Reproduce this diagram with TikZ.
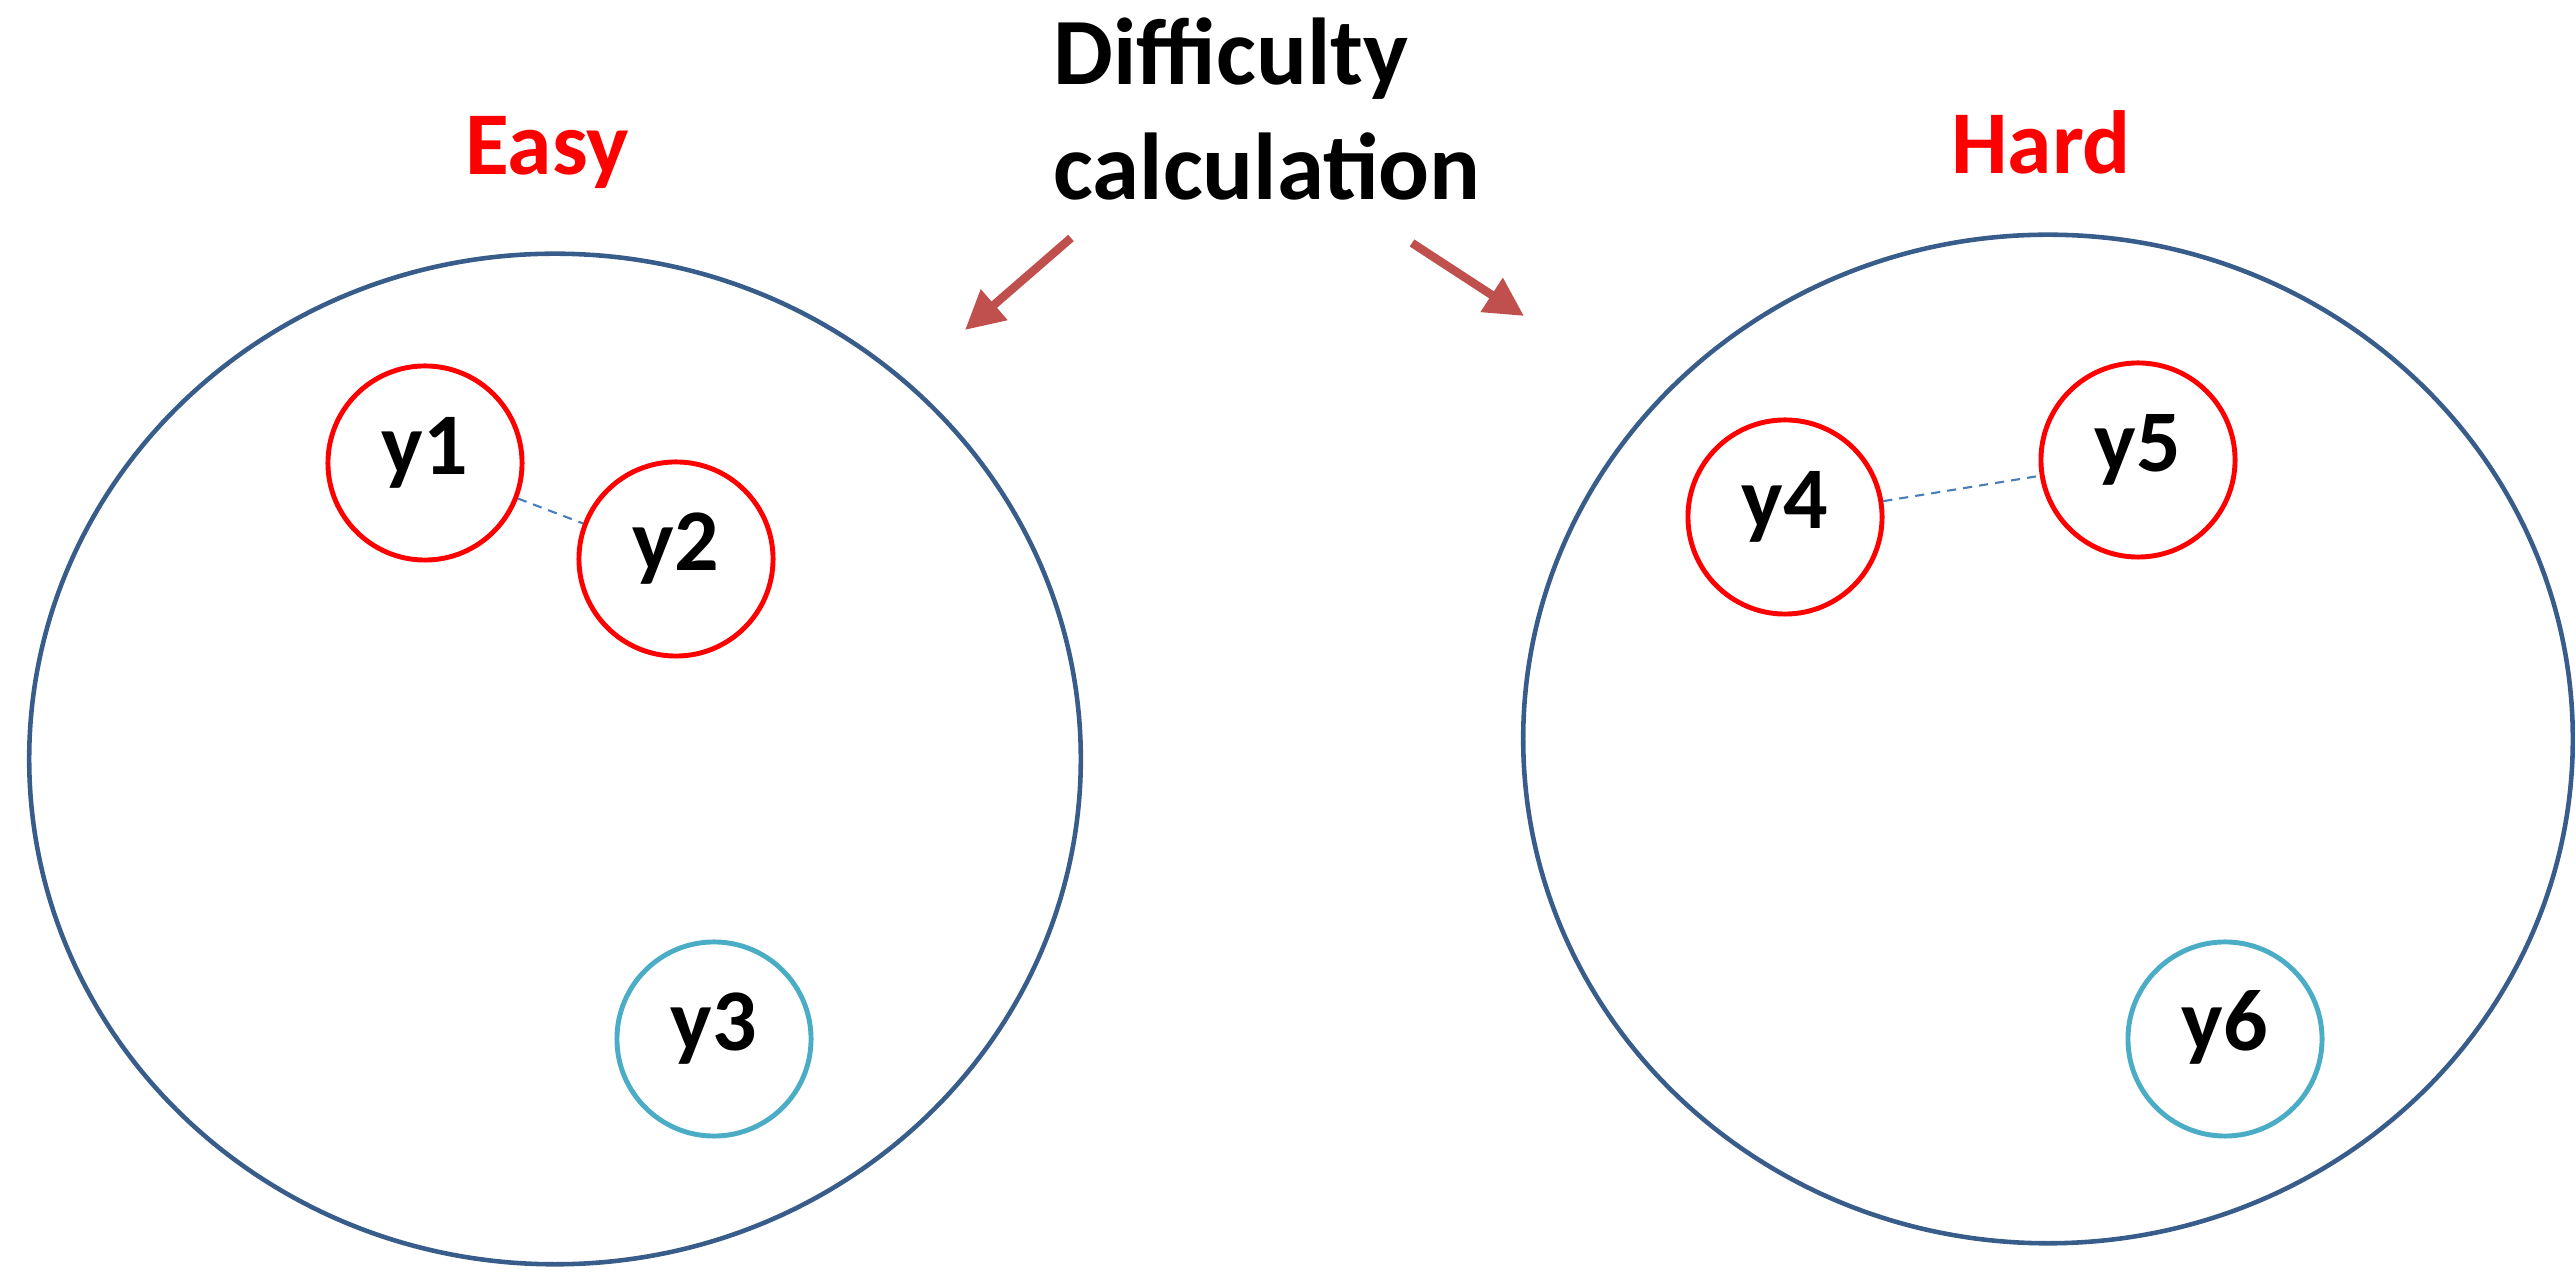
\documentclass[tikz,border=0pt]{standalone}
\usepackage{fontspec}
\setmainfont{Carlito}
\usetikzlibrary{shapes.geometric,arrows.meta}
\definecolor{setblue}{HTML}{385D8A}
\definecolor{redc}{HTML}{FF0000}
\definecolor{cyanc}{HTML}{4BACC6}
\definecolor{dashblue}{HTML}{4A7EBB}
\definecolor{arrowred}{HTML}{C0504D}
\tikzset{
  setellipse/.style={draw=setblue, line width=1.3pt, ellipse, inner sep=0pt},
  yball/.style={circle, draw=#1, line width=1.4pt, minimum size=1.94cm, inner sep=0pt,
    font=\fontsize{25}{28}\selectfont\bfseries, text height=0.632em, text depth=0pt},
  dashlink/.style={draw=dashblue, line width=0.6pt, dash pattern=on 2.6pt off 2pt},
  bigarrow/.style={draw=arrowred, line width=2.4pt, -{Triangle[length=11pt,width=11pt]}},
  setlabel/.style={anchor=base, text=redc, font=\fontsize{25.5}{30}\selectfont\bfseries, inner sep=0pt},
  titletext/.style={anchor=base west, font=\fontsize{27}{32}\selectfont\bfseries, inner sep=0pt}
}
\begin{document}
\begin{tikzpicture}[x=0.01cm, y=-0.01cm]
\useasboundingbox (0,0) rectangle (2575,1274);
% sets
\node[setellipse, minimum width=10.51cm, minimum height=10.10cm] (easyset) at (555,759) {};
\node[setellipse, minimum width=10.49cm, minimum height=10.08cm] (hardset) at (2048,739) {};
% labels
\node[setlabel] (easy) at (547,175) {Easy};
\node[setlabel] (hard) at (2041,174) {Hard};
\node[titletext] (t1) at (1053,85) {Difficulty};
\node[titletext] (t2) at (1053,200) {calculation};
% balls
\node[yball=redc] (y1) at (425,463) {y1};
\node[yball=redc] (y2) at (676,559) {y2};
\node[yball=cyanc] (y3) at (714,1039) {y3};
\node[yball=redc] (y4) at (1785,517) {y4};
\node[yball=redc] (y5) at (2138,460) {y5};
\node[yball=cyanc] (y6) at (2225,1039) {y6};
% links
\draw[dashlink] (y1) -- (y2);
\draw[dashlink] (y4) -- (y5);
% arrows
\coordinate (a1s) at (1071,238);
\coordinate (a1e) at (965,330);
\coordinate (a2s) at (1412,243);
\coordinate (a2e) at (1524,316);
\draw[bigarrow] (a1s) -- (a1e);
\draw[bigarrow] (a2s) -- (a2e);
\end{tikzpicture}
\end{document}
